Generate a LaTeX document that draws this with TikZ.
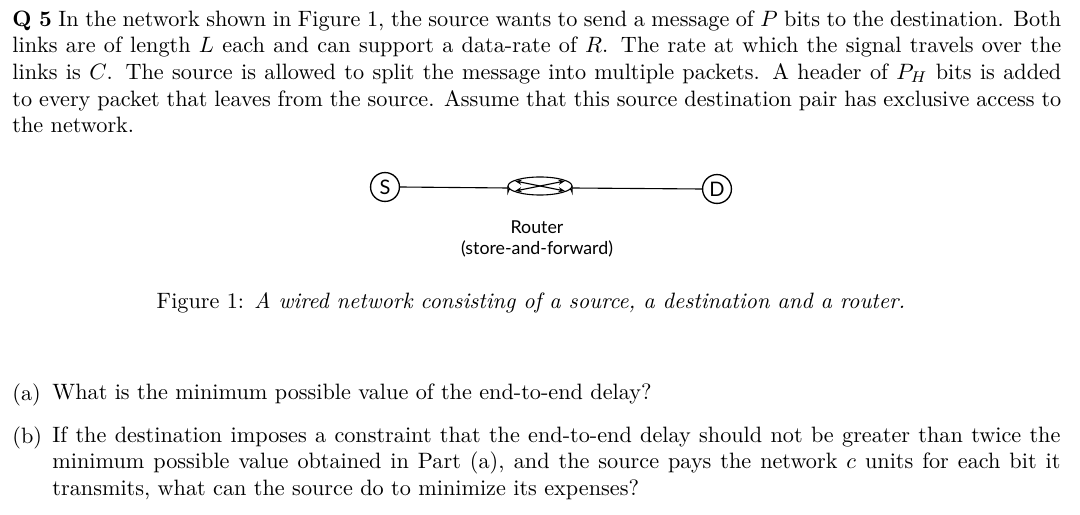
\documentclass[tikz,border=0pt]{standalone}
\usepackage{fontspec}
\newfontfamily\gill{Lato}
\usetikzlibrary{arrows.meta}
\begin{document}
\begin{tikzpicture}[x=0.45pt,y=-0.45pt,
  txt/.style={anchor=north west,inner sep=0pt,align=justify,font=\fontsize{10}{12}\selectfont},
  host/.style={circle,draw,line width=0.6pt,minimum size=13pt,inner sep=0pt,font=\gill\fontsize{9}{9}\selectfont},
  lbl/.style={font=\gill\fontsize{8}{10}\selectfont,inner sep=0pt},
  link/.style={line width=0.5pt}]
\useasboundingbox (0,0) rectangle (1080,515);
\node[txt,text width=472pt] (q) at (12,10) {\textbf{Q 5} In the network shown in Figure 1, the source wants to send a message of $P$ bits to the destination. Both links are of length $L$ each and can support a data-rate of $R$. The rate at which the signal travels over the links is $C$. The source is allowed to split the message into multiple packets. A header of $P_H$ bits is added to every packet that leaves from the source. Assume that this source destination pair has exclusive access to the network.};
\node[host] (S) at (385,187) {S};
\node[host] (D) at (717,189) {D};
% router
\coordinate (R) at (540,186);
\draw[line width=0.5pt] (508,186) -- (508,192) arc[start angle=180,end angle=360,x radius=32,y radius=9] -- (572,186);
\draw[line width=0.5pt,fill=white] (R) ellipse[x radius=32,y radius=9];
\draw[line width=0.5pt,{Stealth[length=3pt]}-{Stealth[length=3pt]}] (515,181) -- (565,191);
\draw[line width=0.5pt,{Stealth[length=3pt]}-{Stealth[length=3pt]}] (515,191) -- (565,181);
\coordinate (Rw) at (508,188);
\coordinate (Re) at (572,188);
\draw[link] (S.east) -- (Rw);
\draw[link] (Re) -- (D.west);
\node[lbl] (r1) at (537,227) {Router};
\node[lbl] (r2) at (537,249) {(store-and-forward)};
\node[inner sep=0pt,font=\fontsize{10}{12}\selectfont] (cap) at (531,303) {Figure 1: \textit{A wired network consisting of a source, a destination and a router.}};
\node[txt] (la) at (12,383) {(a)};
\node[txt,text width=453.6pt] (a) at (52,383) {What is the minimum possible value of the end-to-end delay?};
\node[txt] (lb) at (12,426) {(b)};
\node[txt,text width=453.6pt] (b) at (52,426) {If the destination imposes a constraint that the end-to-end delay should not be greater than twice the minimum possible value obtained in Part (a), and the source pays the network $c$ units for each bit it transmits, what can the source do to minimize its expenses?};
\end{tikzpicture}
\end{document}
